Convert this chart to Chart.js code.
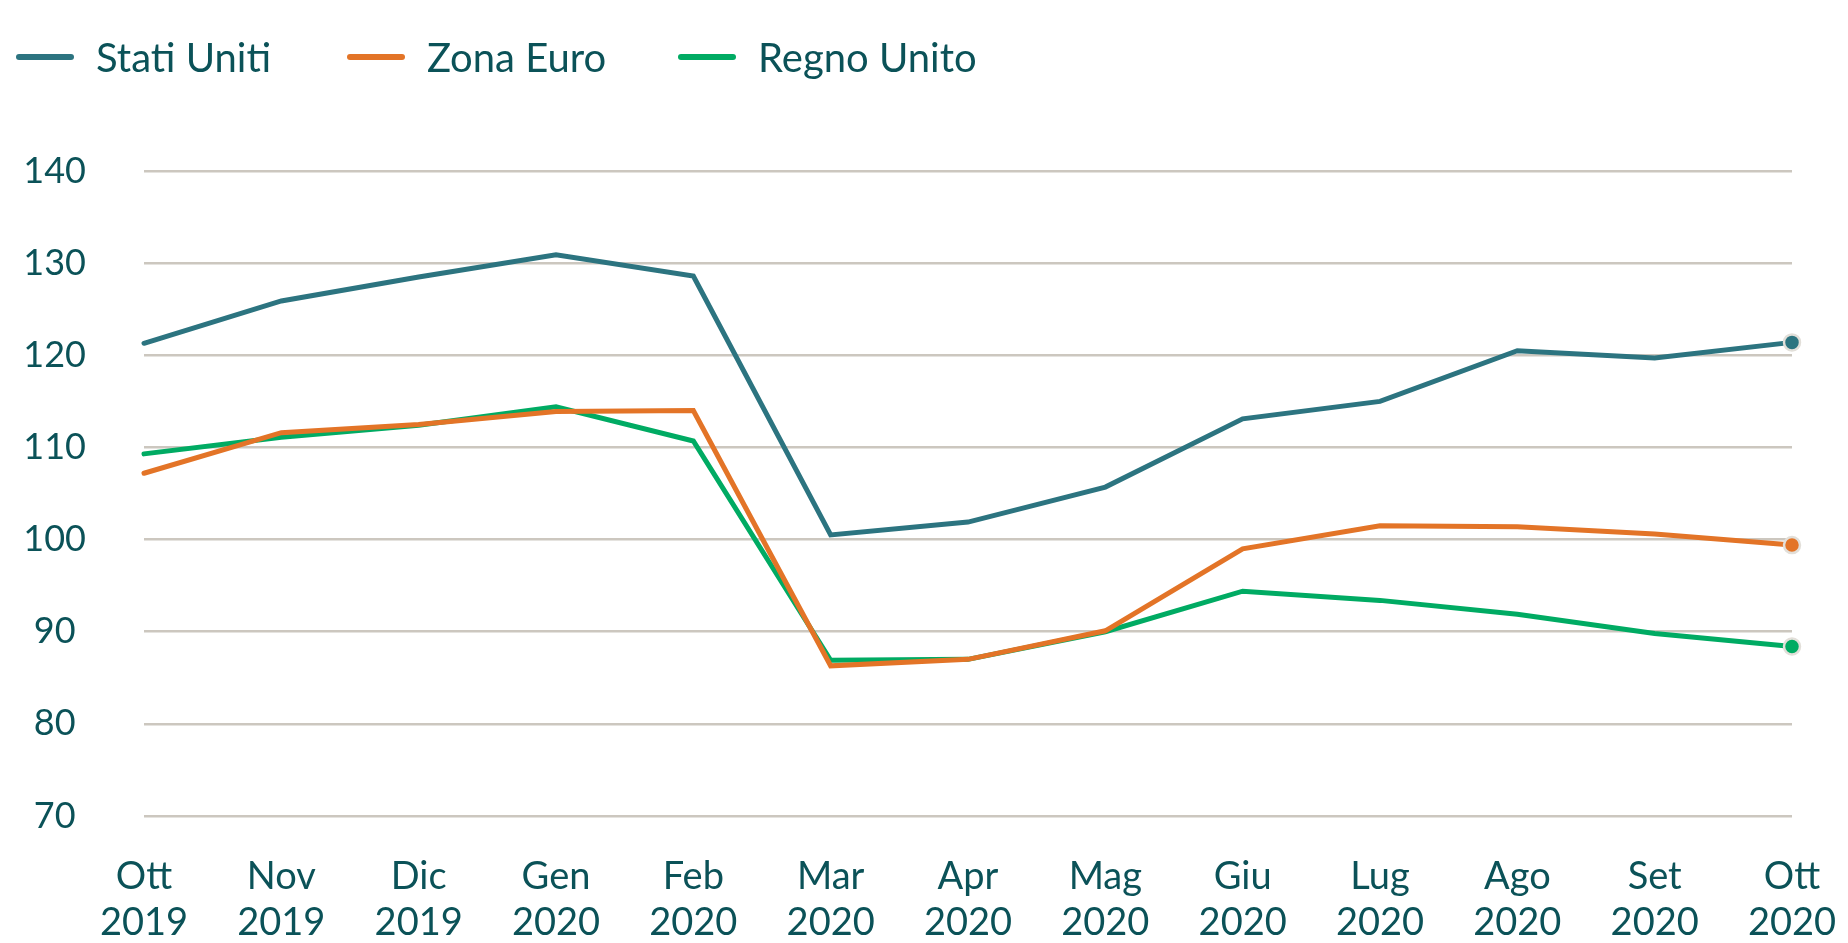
<!DOCTYPE html>
<html>
<head>
<meta charset="utf-8">
<script src="https://cdn.jsdelivr.net/npm/chart.js@4/dist/chart.umd.min.js"></script>
<style>
  html, body { margin: 0; padding: 0; background: #fff; }
  #wrap { position: relative; width: 1848px; height: 943px; }
  #legend { position: absolute; left: 16px; top: 30px; display: flex; font-family: Lato, "Open Sans", sans-serif; font-size: 40px; color: #0b5258; }
  #legend .item { display: flex; align-items: center; width: 331px; height: 54px; }
  #legend .swatch { width: 58px; height: 6px; border-radius: 3px; margin-right: 22px; }
</style>
</head>
<body>
<div id="wrap">
  <div id="legend"></div>
  <canvas id="chart" width="1848" height="943"></canvas>
</div>
<script>
const labels = [
  ['Ott', '2019'], ['Nov', '2019'], ['Dic', '2019'], ['Gen', '2020'], ['Feb', '2020'],
  ['Mar', '2020'], ['Apr', '2020'], ['Mag', '2020'], ['Giu', '2020'], ['Lug', '2020'],
  ['Ago', '2020'], ['Set', '2020'], ['Ott', '2020']
];

const statiUniti = [121.3, 125.9, 128.5, 130.9, 128.6, 100.5, 101.9, 105.7, 113.1, 115.0, 120.5, 119.7, 121.4];
const zonaEuro   = [107.2, 111.6, 112.5, 113.9, 114.0, 86.3, 87.0, 90.1, 99.0, 101.5, 101.4, 100.6, 99.4];
const regnoUnito = [109.3, 111.1, 112.4, 114.4, 110.7, 86.9, 87.0, 90.0, 94.4, 93.4, 91.9, 89.8, 88.4];

const seriesNames = ['Stati Uniti', 'Zona Euro', 'Regno Unito'];
const seriesColors = ['#2c7480', '#e37427', '#00ab63'];
const yTicks = [70, 80, 90, 100, 110, 120, 130, 140];

const textColor = '#0b5258';
const fontFamily = 'Lato, "Open Sans", sans-serif';

// legend built from the series names/colours
const legendEl = document.getElementById('legend');
seriesNames.forEach((name, i) => {
  const item = document.createElement('div');
  item.className = 'item';
  const sw = document.createElement('span');
  sw.className = 'swatch';
  sw.style.background = seriesColors[i];
  const txt = document.createElement('span');
  txt.textContent = name;
  item.appendChild(sw);
  item.appendChild(txt);
  legendEl.appendChild(item);
});

const allSeries = [statiUniti, zonaEuro, regnoUnito];

const datasets = allSeries.map((values, i) => ({
  label: seriesNames[i],
  data: values,
  borderColor: seriesColors[i],
  backgroundColor: seriesColors[i],
  borderWidth: 5,
  borderCapStyle: 'round',
  borderJoinStyle: 'miter',
  fill: false,
  tension: 0,
  clip: false,
  // only the last point gets a marker
  pointRadius: ctx => ctx.dataIndex === values.length - 1 ? 8 : 0,
  pointHoverRadius: ctx => ctx.dataIndex === values.length - 1 ? 8 : 0,
  pointBackgroundColor: seriesColors[i],
  pointBorderColor: '#e2dfd9',
  pointBorderWidth: 2.5
}));

const chart = new Chart(document.getElementById('chart'), {
  type: 'line',
  data: { labels, datasets },
  options: {
    responsive: false,
    animation: false,
    layout: { padding: { top: 171, right: 56, left: 0, bottom: 0 } },
    plugins: {
      legend: { display: false },
      tooltip: { enabled: false }
    },
    scales: {
      x: {
        offset: false,
        grid: { display: false, drawTicks: false },
        border: { display: false },
        afterFit: scale => {
          scale.height = 127;
          scale.paddingLeft = 0;
          scale.paddingRight = 0;
        },
        ticks: {
          autoSkip: false,
          maxRotation: 0,
          minRotation: 0,
          padding: 38,
          color: textColor,
          font: { family: fontFamily, size: 38, lineHeight: 1.21 }
        }
      },
      y: {
        min: 70,
        max: 140,
        afterBuildTicks: scale => { scale.ticks = yTicks.map(v => ({ value: v })); },
        afterFit: scale => { scale.width = 144; },
        grid: { color: '#ccc7bf', lineWidth: 2.5, drawTicks: false },
        border: { display: false },
        ticks: {
          crossAlign: 'center',
          padding: 58,
          color: textColor,
          font: { family: fontFamily, size: 36 }
        }
      }
    }
  }
});
</script>
</body>
</html>
